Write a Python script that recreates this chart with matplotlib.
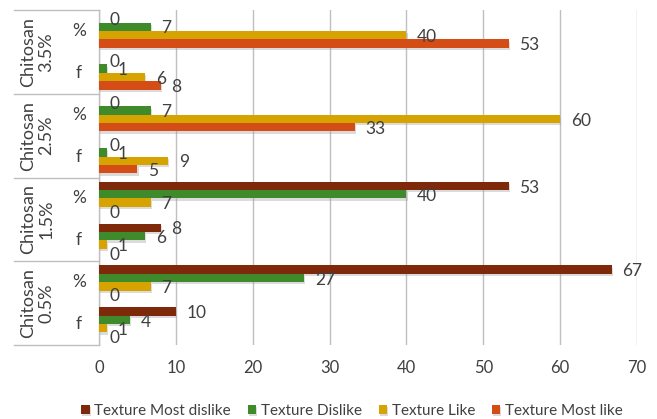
import numpy as np
import matplotlib
matplotlib.use("Agg")
import matplotlib.pyplot as plt
import matplotlib.patheffects as pe

plt.rcParams['font.family'] = ['Lato', 'DejaVu Sans']

# categories from bottom to top
groups = ["Chitosan\n0.5%", "Chitosan\n1.5%", "Chitosan\n2.5%", "Chitosan\n3.5%"]
subcats = ["f", "%"]

series = ["Texture Most dislike", "Texture Dislike", "Texture Like", "Texture Most like"]
colors = ["#7E2A0A", "#3F8B2C", "#D6A300", "#D44C16"]

# one value per (group, subcat) row: 0.5% f, 0.5% %, 1.5% f, 1.5% %, ...
most_dislike = [10, 66.7, 8, 53.3, 0, 0, 0, 0]
dislike = [4, 26.7, 6, 40, 1, 6.7, 1, 6.7]
like = [1, 6.7, 1, 6.7, 9, 60, 6, 40]
most_like = [0, 0, 0, 0, 5, 33.3, 8, 53.3]
values = [most_dislike, dislike, like, most_like]

fig = plt.figure(figsize=(6.57, 4.19), dpi=100)
ax = fig.add_axes([0.1507, 0.1766, 0.819, 0.7994])

y = np.arange(len(most_dislike))
h = 0.2
offsets = [1.5 * h, 0.5 * h, -0.5 * h, -1.5 * h]
shadow = [pe.SimplePatchShadow(offset=(0.8, -1.6), shadow_rgbFace="#9A9A9A", alpha=0.35), pe.Normal()]

for vals, col, off, name in zip(values, colors, offsets, series):
    bars = ax.barh(y + off, vals, height=h, color=col, label=name, zorder=3)
    for b in bars:
        b.set_path_effects(shadow)
    for yy, v in zip(y + off, vals):
        ax.text(v + 1.4, yy - 0.04, f"{v:.0f}", va="center", ha="left",
                fontsize=12.5, color="#404040", zorder=4)

ax.set_xlim(0, 70)
ax.set_ylim(-0.5, len(y) - 0.5)
ax.set_xticks(np.arange(0, 71, 10))
ax.tick_params(axis="x", length=0, labelsize=12, labelcolor="#404040", pad=11)
ax.set_yticks([])
ax.grid(axis="x", color="#BFBFBF", linewidth=1, zorder=0)
for s in ["top", "right", "bottom"]:
    ax.spines[s].set_visible(False)
ax.spines["left"].set_color("#BFBFBF")
ax.spines["left"].set_linewidth(1)

# two-level category labels on the left
for i in range(len(y)):
    ax.text(-0.037, y[i], subcats[i % 2], transform=ax.get_yaxis_transform(),
            ha="center", va="center", fontsize=12.5, color="#404040")
for g, name in enumerate(groups):
    ax.text(-0.115, 2 * g + 0.5, name, transform=ax.get_yaxis_transform(),
            ha="center", va="center", rotation=90, fontsize=13, color="#404040",
            linespacing=1.2)
for b in np.arange(-0.5, len(y), 2):
    ax.plot([-0.158, 0], [b, b], transform=ax.get_yaxis_transform(),
            color="#BFBFBF", linewidth=1, clip_on=False)

ax.legend(loc="upper center", bbox_to_anchor=(0.47, -0.135), ncol=4, frameon=False,
          fontsize=11, handlelength=0.55, handleheight=0.55, handletextpad=0.3,
          columnspacing=1.1, labelcolor="#404040")

fig.savefig("out.png", dpi=100)
